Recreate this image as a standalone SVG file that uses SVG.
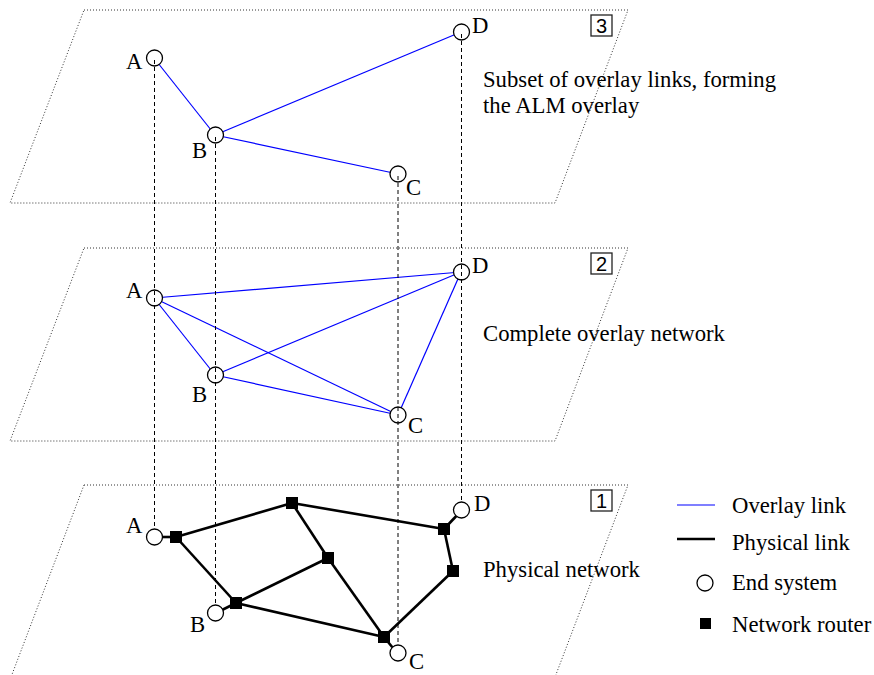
<svg xmlns="http://www.w3.org/2000/svg" width="874" height="675" viewBox="0 0 874 675">
<defs>
<style>
.plane{fill:none;stroke:#333;stroke-width:1;stroke-dasharray:1 2}
.es{fill:#fff;stroke:#000;stroke-width:1.3}
.rt{fill:#000}
.ov{stroke:#0000ff;stroke-width:1.2;fill:none}
.ph{stroke:#000;stroke-width:2.6;fill:none}
.vd{stroke:#000;stroke-width:1;stroke-dasharray:4 3;fill:none}
.lbl{font-family:"Liberation Serif","Times New Roman",serif;font-size:22.7px;fill:#000}
.num{font-family:"Liberation Sans",Arial,sans-serif;font-size:20px;fill:#000}
.box{fill:#fff;stroke:#222;stroke-width:1.3}
</style>
</defs>
<rect width="874" height="675" fill="#fff"/>
<g id="planes">
<polygon class="plane" points="84,10 628,10 555,203 10,203"/>
<polygon class="plane" points="84,248 628,248 555,441 10,441"/>
<polygon class="plane" points="84,485 628,485 552,685 8,685"/>
<rect class="box" x="591" y="15" width="21" height="21"/>
<text class="num" x="601.5" y="32.5" text-anchor="middle">3</text>
<rect class="box" x="591" y="253" width="21" height="21"/>
<text class="num" x="601.5" y="270.5" text-anchor="middle">2</text>
<rect class="box" x="591" y="490" width="21" height="21"/>
<text class="num" x="601.5" y="507.5" text-anchor="middle">1</text>
<text class="lbl" x="483" y="87">Subset of overlay links, forming</text>
<text class="lbl" x="483" y="113">the ALM overlay</text>
<text class="lbl" x="483" y="341">Complete overlay network</text>
<text class="lbl" x="483" y="577">Physical network</text>
</g>
<g id="connectors">
<line class="ov" x1="154" y1="58" x2="215" y2="135"/>
<line class="ov" x1="215" y1="135" x2="461" y2="32"/>
<line class="ov" x1="215" y1="135" x2="398" y2="174"/>
<line class="ov" x1="154" y1="298" x2="461" y2="272"/>
<line class="ov" x1="154" y1="298" x2="215" y2="375"/>
<line class="ov" x1="154" y1="298" x2="398" y2="415"/>
<line class="ov" x1="215" y1="375" x2="461" y2="272"/>
<line class="ov" x1="215" y1="375" x2="398" y2="415"/>
<line class="ov" x1="398" y1="415" x2="461" y2="272"/>
<line class="ph" x1="155" y1="537" x2="176" y2="537"/>
<line class="ph" x1="176" y1="537" x2="292" y2="503"/>
<line class="ph" x1="176" y1="537" x2="236" y2="603"/>
<line class="ph" x1="292" y1="503" x2="328" y2="558"/>
<line class="ph" x1="292" y1="503" x2="444" y2="529"/>
<line class="ph" x1="328" y1="558" x2="236" y2="603"/>
<line class="ph" x1="328" y1="558" x2="384" y2="637"/>
<line class="ph" x1="236" y1="603" x2="384" y2="637"/>
<line class="ph" x1="236" y1="603" x2="216" y2="613"/>
<line class="ph" x1="384" y1="637" x2="397" y2="653"/>
<line class="ph" x1="384" y1="637" x2="453" y2="571"/>
<line class="ph" x1="453" y1="571" x2="444" y2="529"/>
<line class="ph" x1="444" y1="529" x2="462" y2="510"/>
</g>
<g id="end-systems">
<g id="A3"><circle class="es" cx="154.5" cy="58" r="8"/><text class="lbl" x="126" y="69">A</text></g>
<g id="B3"><circle class="es" cx="215.5" cy="135" r="8"/><text class="lbl" x="192" y="158">B</text></g>
<g id="C3"><circle class="es" cx="398" cy="174" r="8"/><text class="lbl" x="406" y="195">C</text></g>
<g id="D3"><circle class="es" cx="461.5" cy="32" r="8"/><text class="lbl" x="472" y="33">D</text></g>
<g id="A2"><circle class="es" cx="154.5" cy="298" r="8"/><text class="lbl" x="126" y="298">A</text></g>
<g id="B2"><circle class="es" cx="215.5" cy="375" r="8"/><text class="lbl" x="192" y="402">B</text></g>
<g id="C2"><circle class="es" cx="398" cy="415" r="8"/><text class="lbl" x="408" y="433">C</text></g>
<g id="D2"><circle class="es" cx="461.5" cy="272" r="8"/><text class="lbl" x="472" y="273">D</text></g>
<g id="A1"><circle class="es" cx="154.5" cy="537" r="8"/><text class="lbl" x="126" y="533">A</text></g>
<g id="B1"><circle class="es" cx="215.5" cy="613" r="8"/><text class="lbl" x="190" y="632">B</text></g>
<g id="C1"><circle class="es" cx="398" cy="653" r="8"/><text class="lbl" x="409" y="669">C</text></g>
<g id="D1"><circle class="es" cx="461.5" cy="510" r="8"/><text class="lbl" x="474" y="511">D</text></g>
</g>
<g id="verticals">
<line class="vd" x1="154.5" y1="60" x2="154.5" y2="529"/>
<line class="vd" x1="215.5" y1="137" x2="215.5" y2="605"/>
<line class="vd" x1="398" y1="176" x2="398" y2="645"/>
<line class="vd" x1="461.5" y1="34" x2="461.5" y2="502"/>
</g>
<g id="routers">
<rect class="rt" x="170" y="531" width="12" height="12"/>
<rect class="rt" x="286" y="497" width="12" height="12"/>
<rect class="rt" x="322" y="552" width="12" height="12"/>
<rect class="rt" x="230" y="597" width="12" height="12"/>
<rect class="rt" x="378" y="631" width="12" height="12"/>
<rect class="rt" x="438" y="523" width="12" height="12"/>
<rect class="rt" x="447" y="565" width="12" height="12"/>
</g>
<g id="legend">
<line class="ov" x1="677" y1="505" x2="715" y2="505"/>
<text class="lbl" x="732" y="513">Overlay link</text>
<line class="ph" x1="677" y1="539" x2="715" y2="539"/>
<text class="lbl" x="732" y="550">Physical link</text>
<circle class="es" cx="705" cy="583" r="8"/>
<text class="lbl" x="732" y="590">End system</text>
<rect class="rt" x="700" y="618" width="11" height="11"/>
<text class="lbl" x="732" y="632">Network router</text>
</g>
</svg>
